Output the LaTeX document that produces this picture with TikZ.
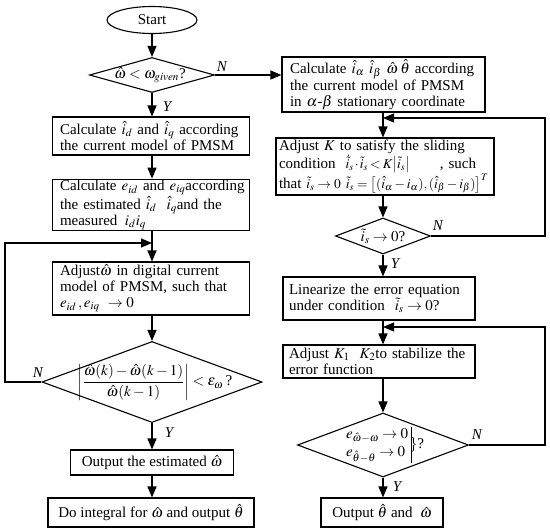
\documentclass[tikz,border=0pt]{standalone}
\usepackage{amsmath}
\usepackage{mathptmx}
\usepackage{fontspec}
\setmainfont{Liberation Serif}
\usetikzlibrary{shapes.geometric,arrows.meta}
\newcommand\fullln[2]{\makebox[#1pt][s]{#2}}
\newcommand\smallm[1]{{\fontsize{13.5}{15}\selectfont$#1$}}
\tikzset{
  box/.style={draw, line width=1.1pt, align=left, inner ysep=1pt,
    font=\fontsize{15}{16}\selectfont},
  dia/.style={draw, diamond, line width=1.1pt, inner sep=0pt},
  dtext/.style={font=\fontsize{15}{16}\selectfont, inner sep=0pt},
  arr/.style={line width=1.1pt, -{Triangle[length=11pt,width=9pt]}},
  yn/.style={font=\fontsize{15}{15}\selectfont\itshape, inner sep=0pt},
}
\begin{document}
\begin{tikzpicture}[x=1pt,y=-1pt]
\useasboundingbox (0,0) rectangle (550,531);
% left column
\node[draw, ellipse, line width=1.1pt, minimum width=90pt, minimum height=27pt, inner sep=0pt,
  font=\fontsize{15}{16}\selectfont] (start) at (152,20) {Start};
\node[dia, minimum width=125pt, minimum height=35pt] (d1) at (152,75) {};
\node[dtext] (t1) at (150,75) {$\hat\omega<\omega_{given}$?};
\node[box, inner xsep=7.5pt, minimum width=197pt, text width=182pt, minimum height=38pt] (b1) at (151,136)
  {\fullln{182}{Calculate $\hat i_d$ and $\hat i_q$ according}\\
   \fullln{182}{the current model of PMSM}};
\node[box, inner xsep=7.5pt, minimum width=197pt, text width=182pt, minimum height=50pt] (b2) at (151,205)
  {\fullln{182}{Calculate $e_{id}$ and $e_{iq}$according}\\
   \mbox{the estimated $\hat i_d$\ \ $\hat i_q$and the}\\
   \mbox{measured\, $i_d i_q$}};
\node[box, inner xsep=7.5pt, minimum width=197pt, text width=182pt, minimum height=53pt] (b3) at (151,288.5)
  {\fullln{175}{Adjust$\hat\omega$ in digital current}\\
   \fullln{182}{model of PMSM, such that}\\
   \mbox{$e_{id}\,, e_{iq}\ \to 0$}};
\node[dia, minimum width=220pt, minimum height=81pt] (d2) at (152,382) {};
\node[dtext] (t2) at (155,382)
  {$\left|\dfrac{\hat\omega(k)-\hat\omega(k-1)}{\hat\omega(k-1)}\right|<\varepsilon_\omega$\,?};
\node[box, align=center, inner xsep=4pt, minimum width=163pt, minimum height=25pt] (ob) at (152,462.5)
  {Output the estimated $\hat\omega$};
\node[box, align=center, inner xsep=4pt, minimum width=206pt, minimum height=29pt] (fb) at (151,512.5)
  {Do integral for $\hat\omega$ and output $\hat\theta$};
% right column
\node[box, inner xsep=8pt, minimum width=203pt, text width=187pt, minimum height=55pt] (rb1) at (383.5,84.5)
  {\fullln{182}{Calculate $\hat i_\alpha$ $\hat i_\beta$ $\hat\omega$\,$\hat\theta$ according}\\
   \fullln{182}{the current model of PMSM}\\
   \fullln{179}{in $\alpha$-$\beta$ stationary coordinate}};
\node[box, inner xsep=3pt, minimum width=218pt, text width=212pt, minimum height=57pt] (rb2) at (385,166.5)
  {\fullln{192}{Adjust $K$ to satisfy the sliding}\\
   \fullln{197}{condition\ \ \smallm{\dot{\tilde i}_s\cdot\tilde i_s<K\bigl|\tilde i_s\bigr|}\qquad, such}\\
   \mbox{that\ \smallm{\tilde i_s\to0}\ \smallm{\tilde i_s=\bigl[(\hat i_\alpha-i_\alpha),(\hat i_\beta-i_\beta)\bigr]^T}}};
\node[dia, minimum width=95pt, minimum height=36pt] (d3) at (383,236) {};
\node[dtext] (t3) at (383,236) {$\tilde i_s\to0$?};
\node[box, inner xsep=6pt, minimum width=192pt, text width=180pt, minimum height=43pt] (lin) at (379,298.5)
  {\fullln{180}{Linearize the error equation}\\
   \mbox{under condition\ \ $\tilde i_s\to0$?}};
\node[box, inner xsep=6pt, minimum width=192pt, text width=180pt, minimum height=33pt] (kb) at (379,361.5)
  {\fullln{180}{Adjust\ $K_1$\ \ $K_2$to stabilize the}\\
   \mbox{error function}};
\node[dia, minimum width=171pt, minimum height=64pt] (d4) at (383,445) {};
\node[dtext] (t4) at (385,445)
  {$\begin{array}{@{}l@{\;}|}e_{\hat\omega-\omega}\to0\\[2pt] e_{\hat\theta-\theta}\to0\end{array}\!\}$?};
\node[box, align=center, inner xsep=4pt, minimum width=122pt, minimum height=29pt] (out) at (382,512.5)
  {Output\ $\hat\theta$ and\ \ $\hat\omega$};
% coordinates
\coordinate (lx) at (152,0);
\coordinate (rx) at (383,0);
\coordinate (c1) at (152,243);
\coordinate (c2) at (383,118);
\coordinate (c3) at (383,327);
\coordinate (lft) at (5,0);
\coordinate (rgt) at (545,0);
% vertical arrows
\draw[arr] (start) -- (d1);
\draw[arr] (d1.south) -- (b1.north -| lx);
\draw[arr] (b1.south -| lx) -- (b2.north -| lx);
\draw[arr] (b2.south -| lx) -- (b3.north -| lx);
\draw[arr] (b3.south -| lx) -- (d2.north);
\draw[arr] (d2.south) -- (ob.north -| lx);
\draw[arr] (ob.south -| lx) -- (fb.north -| lx);
\draw[arr] (d1.east) -- (d1.east -| rb1.west);
\draw[arr] (rb1.south -| rx) -- (rb2.north -| rx);
\draw[arr] (rb2.south -| rx) -- (d3.north);
\draw[arr] (d3.south) -- (lin.north -| rx);
\draw[arr] (lin.south -| rx) -- (kb.north -| rx);
\draw[arr] (kb.south -| rx) -- (d4.north);
\draw[arr] (d4.south) -- (out.north -| rx);
% feedback
\draw[arr] (d2.west) -- (d2.west -| lft) |- (c1);
\draw[arr] (d3.east) -- (d3.east -| rgt) |- (c2);
\draw[arr] (d4.east) -- (d4.east -| rgt) |- (c3);
% Y / N labels
\node[yn] (n1) at (222,67) {N};
\node[yn] (y1) at (167,107) {Y};
\node[yn] (n2) at (38,373) {N};
\node[yn] (y2) at (169,433) {Y};
\node[yn] (n3) at (438,226) {N};
\node[yn] (y3) at (395,264) {Y};
\node[yn] (n4) at (477,435) {N};
\node[yn] (y4) at (397,487) {Y};
\end{tikzpicture}
\end{document}
